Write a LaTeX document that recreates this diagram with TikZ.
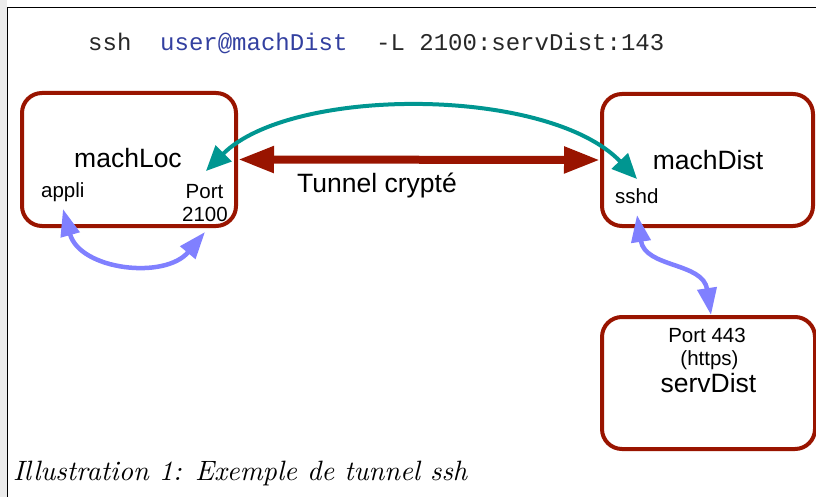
\documentclass[tikz,border=0pt]{standalone}
\usepackage{fontspec}
\usepackage{graphicx}
\usetikzlibrary{arrows.meta}
\newfontfamily\arial{Liberation Sans}
\newfontfamily\monofont{Liberation Mono}
\definecolor{boxred}{RGB}{153,20,0}
\definecolor{tealc}{RGB}{0,150,145}
\definecolor{bluec}{RGB}{128,128,255}
\definecolor{cmdblue}{RGB}{51,64,160}
\definecolor{cmdgray}{RGB}{40,40,40}
\begin{document}
\begin{tikzpicture}[x=1pt,y=-1pt,
  box/.style={draw=boxred, line width=4pt, rounded corners=20pt, fill=white, inner sep=0pt},
  big/.style={font=\arial\fontsize{26.5}{30}\selectfont, inner sep=0pt, anchor=base},
  small/.style={font=\arial\fontsize{20.5}{23}\selectfont, inner sep=0pt, anchor=base},
  tunnel/.style={draw=boxred, line width=8pt, {Triangle[length=36pt,width=25pt]}-{Triangle[length=36pt,width=25pt]}},
  sshlink/.style={draw=tealc, line width=4pt, {Triangle[length=25pt,width=22pt]}-{Triangle[length=25pt,width=22pt]}},
  loclink/.style={draw=bluec, line width=4.5pt, {Triangle[length=27pt,width=19pt]}-{Triangle[length=27pt,width=19pt]}},
]
\useasboundingbox (0,0) rectangle (816,497);
\fill[gray!15] (0,0) rectangle (7,497);
\draw[line width=1.5pt] (7.5,497) -- (7.5,7.5) -- (816,7.5);

% boxes
\node[box, minimum width=214pt, minimum height=133pt] (loc) at (129,159.5) {};
\node[box, minimum width=211pt, minimum height=132pt] (dist) at (707.5,160) {};
\node[box, minimum width=213pt, minimum height=132pt] (serv) at (708.5,383) {};

% command
\node[font=\monofont\fontsize{24}{28}\selectfont, anchor=base west, inner sep=0pt, text=cmdgray] (cmd) at (88,51)
  {ssh\ \ \textcolor{cmdblue}{user@machDist}\ \ -L 2100:servDist:143};

% connectors
\coordinate (tl) at (206,171);
\coordinate (tr) at (637,179);
\coordinate (ap) at (63,209);
\coordinate (pp) at (205,232);
\coordinate (sd) at (637,215);
\coordinate (sv) at (711,315);
\draw[tunnel] (loc.east) -- (dist.west);
\draw[sshlink] (tl) .. controls (291,86) and (548,86) .. (tr);
\draw[loclink] (ap) .. controls (80,270) and (165,280) .. (pp);
\draw[loclink] (sd) .. controls (645,268) and (703,262) .. (sv);

% texts
\node[big] (locname) at (128,168) {machLoc};
\node[small, anchor=base west] (appli) at (41,197) {appli};
\node[small] (port) at (204.5,198) {Port};
\node[small] (portnum) at (205,221) {2100};
\node[big, anchor=base west] (tun) at (297,193) {Tunnel crypté};
\node[big] (distname) at (708,170) {machDist};
\node[small, anchor=base west] (sshd) at (615,204) {sshd};
\node[small] (p443) at (707,342) {Port 443};
\node[small] (https) at (709.5,365) {(https)};
\node[big] (servname) at (708.5,392) {servDist};

% caption
\node[anchor=base west, inner sep=0pt] (cap) at (13,480)
  {\resizebox{454pt}{!}{\itshape Illustration 1: Exemple de tunnel ssh}};
\end{tikzpicture}
\end{document}
